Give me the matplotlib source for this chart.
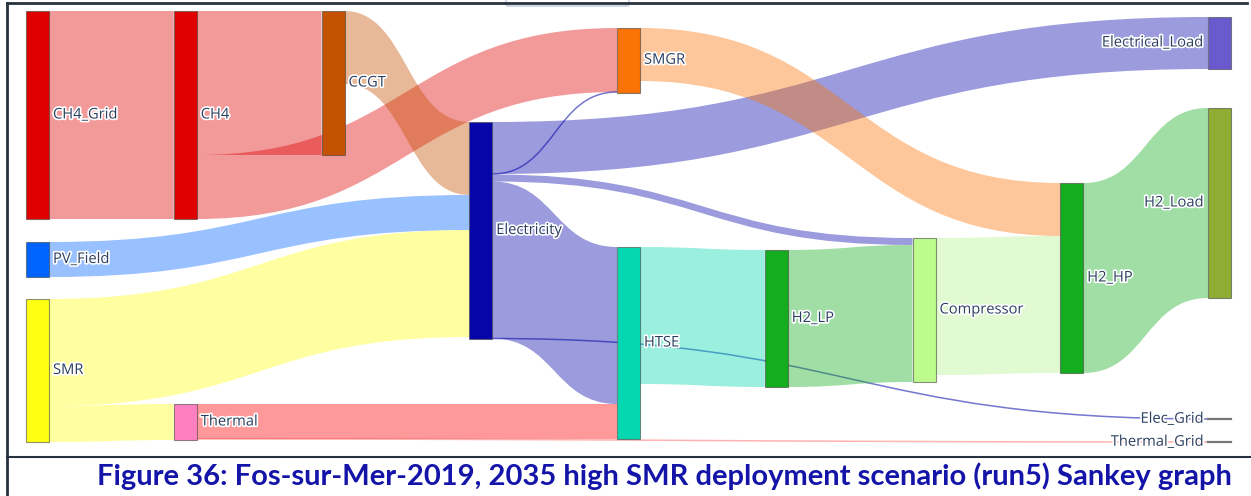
import matplotlib
matplotlib.use("Agg")
import matplotlib.pyplot as plt
import matplotlib.patheffects as pe
from matplotlib.path import Path
from matplotlib.patches import PathPatch, Rectangle, FancyBboxPatch

# Nodos del Sankey y sus colores
nodes = ["CH4_Grid", "PV_Field", "SMR", "CH4", "Thermal", "CCGT", "Electricity",
         "SMGR", "HTSE", "H2_LP", "Compressor", "H2_HP", "Electrical_Load",
         "H2_Load", "Elec_Grid", "Thermal_Grid"]
node_colors = ["#e00000", "#0064ff", "#ffff14", "#e00000", "#ff80c0", "#c55200",
               "#0505aa", "#fb7305", "#05d8b0", "#14ad1e", "#bdfc8c", "#14ad1e",
               "#6a5acd", "#8fad32", "#777777", "#777777"]

# Flujos (unidades relativas)
sources = ["CH4_Grid", "CH4", "CH4", "CCGT", "PV_Field", "SMR", "SMR",
           "Electricity", "Electricity", "Electricity", "Electricity", "Electricity",
           "Thermal", "Thermal", "SMGR", "HTSE", "H2_LP", "Compressor", "H2_HP"]
targets = ["CH4", "CCGT", "SMGR", "Electricity", "Electricity", "Electricity", "Thermal",
           "Electrical_Load", "SMGR", "Compressor", "HTSE", "Elec_Grid",
           "HTSE", "Thermal_Grid", "H2_HP", "H2_LP", "Compressor", "H2_HP", "H2_Load"]
values = [208, 144, 64, 73, 35, 107, 36,
          52, 0.5, 7, 157, 0.5,
          35, 0.5, 53, 137, 137, 137, 190]
link_colors = ["#e00000", "#e00000", "#e00000", "#c55200", "#0064ff", "#ffff14", "#ffff14",
               "#0505aa", "#0505aa", "#0505aa", "#0505aa", "#0505aa",
               "#ff0000", "#ff0000", "#fb7305", "#05d8b0", "#14ad1e", "#b4f48c", "#14ad1e"]

caption = "Figure 36: Fos-sur-Mer-2019, 2035 high SMR deployment scenario (run5) Sankey graph"

# Disposicion (columna y borde superior de cada nodo, en pixeles)
node_col = {"CH4_Grid": 0, "PV_Field": 0, "SMR": 0, "CH4": 1, "Thermal": 1, "CCGT": 2,
            "Electricity": 3, "SMGR": 4, "HTSE": 4, "H2_LP": 5, "Compressor": 6,
            "H2_HP": 7, "Electrical_Load": 8, "H2_Load": 8, "Elec_Grid": 8,
            "Thermal_Grid": 8}
node_top = {"CH4_Grid": 11, "PV_Field": 242, "SMR": 299, "CH4": 11, "Thermal": 404,
            "CCGT": 11, "Electricity": 122, "SMGR": 28, "HTSE": 247, "H2_LP": 250,
            "Compressor": 238, "H2_HP": 183, "Electrical_Load": 17, "H2_Load": 108,
            "Elec_Grid": 419, "Thermal_Grid": 442}
x0_col, dx_col, node_w = 26, 147.75, 23
scale = 1.0
alpha = 0.4

fig = plt.figure(figsize=(12.51, 4.96), dpi=100)
ax = fig.add_axes([0, 0, 1, 1])
ax.set_xlim(0, 1251)
ax.set_ylim(496, 0)
ax.axis("off")

# Altura de nodo = max(entrada, salida)
inflow = {n: 0 for n in nodes}
outflow = {n: 0 for n in nodes}
for s, t, v in zip(sources, targets, values):
    outflow[s] += v
    inflow[t] += v
height = {n: max(inflow[n], outflow[n]) * scale for n in nodes}
left = {n: x0_col + node_col[n] * dx_col for n in nodes}
center = {n: node_top[n] + height[n] / 2 for n in nodes}

# Orden de los enlaces en cada nodo (segun el borde superior del otro nodo)
links = list(range(len(values)))
out_y = {}
for n in nodes:
    y = node_top[n]
    for i in sorted([i for i in links if sources[i] == n], key=lambda i: node_top[targets[i]]):
        out_y[i] = y
        y += values[i] * scale
in_y = {}
for n in nodes:
    y = node_top[n]
    for i in sorted([i for i in links if targets[i] == n], key=lambda i: node_top[sources[i]]):
        in_y[i] = y
        y += values[i] * scale

for i in links:
    s, t = sources[i], targets[i]
    xa = left[s] + node_w
    xb = left[t]
    xm = (xa + xb) / 2
    w = values[i] * scale
    ya, yb = out_y[i], in_y[i]
    verts = [(xa, ya), (xm, ya), (xm, yb), (xb, yb),
             (xb, yb + w), (xm, yb + w), (xm, ya + w), (xa, ya + w), (xa, ya)]
    codes = [Path.MOVETO, Path.CURVE4, Path.CURVE4, Path.CURVE4,
             Path.LINETO, Path.CURVE4, Path.CURVE4, Path.CURVE4, Path.CLOSEPOLY]
    if w < 2:
        # enlaces casi nulos: se ven como una linea fina
        a = 0.3 if link_colors[i] == "#ff0000" else 0.55
        line = Path(verts[:4], codes[:4])
        ax.add_patch(PathPatch(line, facecolor="none", edgecolor=link_colors[i],
                               alpha=a, lw=1.1))
    else:
        ax.add_patch(PathPatch(Path(verts, codes), facecolor=link_colors[i],
                               alpha=alpha, lw=0))

# Nodos
for n, c in zip(nodes, node_colors):
    if height[n] < 2:
        ax.plot([left[n], left[n] + node_w], [center[n], center[n]], color="#777777", lw=1.6)
    else:
        ax.add_patch(Rectangle((left[n], node_top[n]), node_w, height[n], facecolor=c,
                               edgecolor=(0.27, 0.27, 0.27, 0.6), lw=0.8))
    if node_col[n] == 8:
        tx, ha = left[n] - 4, "right"
    else:
        tx, ha = left[n] + node_w + 4, "left"
    ax.text(tx, center[n], n, ha=ha, va="center", fontsize=10.6, family="Open Sans",
            color="#2a3f5f",
            path_effects=[pe.withStroke(linewidth=2.4, foreground="white")])

# Marco del documento
ax.plot([7, 7], [2.5, 496], color="#27323f", lw=2)
ax.plot([7, 1247], [2.5, 2.5], color="#27323f", lw=2)
ax.plot([7, 1251], [456.5, 456.5], color="#27323f", lw=1.5)
ax.add_patch(FancyBboxPatch((506, -4), 123, 10, boxstyle="round,pad=0,rounding_size=2",
                            facecolor="none", edgecolor="#c5cfe2", lw=1.2))

# Titulo ajustado al ancho
txt = ax.text(664, 476, caption, ha="center", va="center", fontsize=16,
              family="Lato", weight="bold", color="#1414a8")
fig.canvas.draw()
bb = txt.get_window_extent()
txt.set_fontsize(16 * 1137 / bb.width)

fig.savefig("out.png", dpi=100)
